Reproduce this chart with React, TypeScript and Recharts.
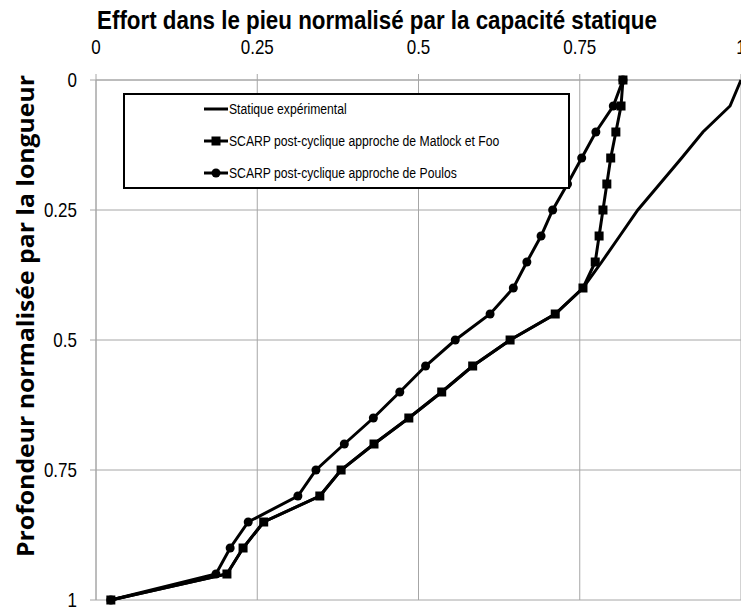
import React from 'react';
import { ScatterChart, Scatter, XAxis, YAxis, CartesianGrid, Legend } from 'recharts';

const depths = [0, 0.05, 0.1, 0.15, 0.2, 0.25, 0.3, 0.35, 0.4, 0.45, 0.5, 0.55, 0.6, 0.65, 0.7, 0.75, 0.8, 0.85, 0.9, 0.95, 1];
const staticValues = [1.0, 0.983, 0.941, 0.908, 0.874, 0.84, 0.812, 0.784, 0.755, 0.712, 0.642, 0.584, 0.536, 0.485, 0.431, 0.38, 0.347, 0.26, 0.228, 0.203, 0.023];
const matlockValues = [0.817, 0.814, 0.806, 0.798, 0.792, 0.786, 0.78, 0.774, 0.755, 0.712, 0.642, 0.584, 0.536, 0.485, 0.431, 0.38, 0.347, 0.26, 0.228, 0.203, 0.023];
const poulosValues = [0.817, 0.802, 0.775, 0.753, 0.731, 0.708, 0.69, 0.668, 0.647, 0.611, 0.557, 0.511, 0.471, 0.43, 0.385, 0.341, 0.313, 0.236, 0.208, 0.186, 0.023];
const xTicks = [0, 0.25, 0.5, 0.75, 1];
const yTicks = [0, 0.25, 0.5, 0.75, 1];
const seriesNames = [
  'Statique expérimental',
  'SCARP post-cyclique approche de Matlock et Foo',
  'SCARP post-cyclique approche de Poulos',
];
const titleText = 'Effort dans le pieu normalisé par la capacité statique';
const yLabelText = 'Profondeur normalisée par la longueur';

const toPoints = (vals: number[]) => vals.map((v, i) => ({ x: v, y: depths[i] }));
const staticData = toPoints(staticValues);
const matlockData = toPoints(matlockValues);
const poulosData = toPoints(poulosValues);

const GRID = '#a6a6a6';
const FONT = "'Liberation Sans', Arial, sans-serif";

const SquareMark = (props: any) => {
  const { cx, cy } = props;
  if (cx == null || cy == null) return <g />;
  return <rect x={cx - 4.5} y={cy - 4.5} width={9} height={9} fill="#000" />;
};
const CircleMark = (props: any) => {
  const { cx, cy } = props;
  if (cx == null || cy == null) return <g />;
  return <circle cx={cx} cy={cy} r={4.5} fill="#000" />;
};
const NoMark = () => <g />;

const XTick = (props: any) => {
  const { x, y, payload } = props;
  return (
    <g transform={`translate(${x},${y})`}>
      <text transform="scale(0.85,1)" textAnchor="middle" fontSize={20} fontFamily={FONT} fill="#000" dy={-18}>
        {String(payload.value)}
      </text>
    </g>
  );
};
const YTick = (props: any) => {
  const { x, y, payload } = props;
  return (
    <g transform={`translate(${x - 11},${y})`}>
      <text transform="scale(0.85,1)" textAnchor="end" fontSize={20} fontFamily={FONT} fill="#000" dy={7}>
        {String(payload.value)}
      </text>
    </g>
  );
};

const legendMarks = ['none', 'square', 'circle'];

const renderLegend = () => (
  <svg width={443} height={92} style={{ display: 'block' }}>
    {seriesNames.map((name, i) => {
      const cy = 14 + i * 32;
      const mark = legendMarks[i];
      return (
        <g key={name}>
          <line x1={79} x2={103} y1={cy} y2={cy} stroke="#000" strokeWidth={3} />
          {mark === 'square' && <rect x={86.5} y={cy - 4.5} width={9} height={9} fill="#000" />}
          {mark === 'circle' && <circle cx={91} cy={cy} r={4.5} fill="#000" />}
          <g transform={`translate(104,${cy + 5})`}>
            <text transform="scale(0.87,1)" fontSize={14} fontFamily={FONT} fill="#000">
              {name}
            </text>
          </g>
        </g>
      );
    })}
  </svg>
);

export default function App() {
  return (
    <div style={{ position: 'absolute', left: 0, top: 0, width: 741, height: 609, background: '#fff', overflow: 'hidden' }}>
      <ScatterChart width={741} height={609} margin={{ top: 50, right: 0, bottom: 9, left: 40 }}>
        <CartesianGrid stroke={GRID} strokeWidth={1} />
        <XAxis
          type="number"
          dataKey="x"
          orientation="top"
          domain={[0, 1]}
          ticks={xTicks}
          height={30}
          axisLine={{ stroke: GRID }}
          tickLine={{ stroke: GRID }}
          tickSize={6}
          tick={<XTick />}
          interval={0}
          allowDataOverflow
        />
        <YAxis
          type="number"
          dataKey="y"
          domain={[0, 1]}
          reversed
          ticks={yTicks}
          width={56}
          axisLine={{ stroke: GRID }}
          tickLine={{ stroke: GRID }}
          tickSize={6}
          tick={<YTick />}
          interval={0}
        />
        <Scatter
          name={seriesNames[0]}
          data={staticData}
          line={{ stroke: '#000', strokeWidth: 3 }}
          shape={<NoMark />}
          isAnimationActive={false}
        />
        <Scatter
          name={seriesNames[1]}
          data={matlockData}
          line={{ stroke: '#000', strokeWidth: 3 }}
          shape={<SquareMark />}
          isAnimationActive={false}
        />
        <Scatter
          name={seriesNames[2]}
          data={poulosData}
          line={{ stroke: '#000', strokeWidth: 3 }}
          shape={<CircleMark />}
          isAnimationActive={false}
        />
        <Legend
          layout="vertical"
          align="center"
          verticalAlign="middle"
          width={447}
          height={96}
          content={renderLegend}
          wrapperStyle={{
            position: 'absolute',
            left: 123,
            top: 93,
            width: 447,
            height: 96,
            border: '2px solid #000',
            background: '#fff',
            boxSizing: 'border-box',
          }}
        />
      </ScatterChart>
      <svg width={741} height={609} style={{ position: 'absolute', left: 0, top: 0, pointerEvents: 'none' }}>
        <g transform="translate(377,29) scale(0.86,1)">
          <text
            x={0}
            y={0}
            textAnchor="middle"
            fontSize={26}
            fontWeight="bold"
            fontFamily={FONT}
            fill="#000"
            textLength={651}
            lengthAdjust="spacingAndGlyphs"
          >
            {titleText}
          </text>
        </g>
        <g transform="translate(34,316) rotate(-90)">
          <text
            x={0}
            y={0}
            textAnchor="middle"
            fontSize={24}
            fontWeight="bold"
            fontFamily="'Open Sans', sans-serif"
            fill="#000"
            textLength={482}
            lengthAdjust="spacingAndGlyphs"
          >
            {yLabelText}
          </text>
        </g>
      </svg>
    </div>
  );
}
